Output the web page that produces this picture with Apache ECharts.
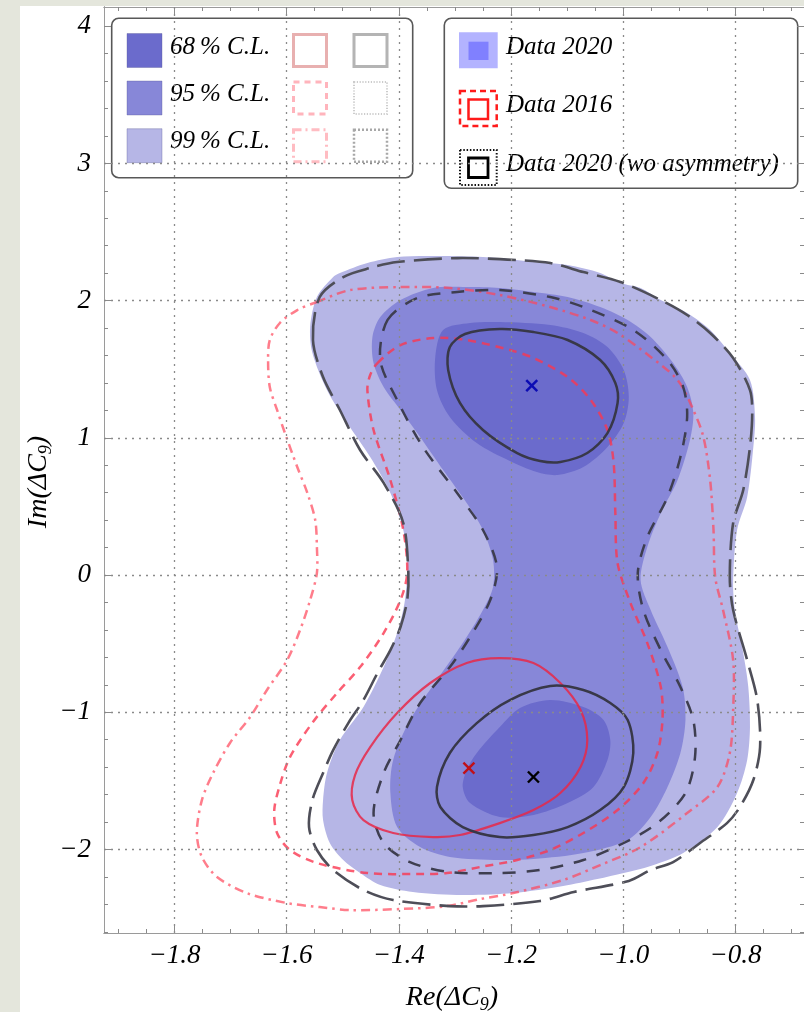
<!DOCTYPE html>
<html><head><meta charset="utf-8">
<script src="https://cdn.jsdelivr.net/npm/echarts@6/dist/echarts.min.js"></script>
<style>html,body{margin:0;padding:0;background:#fff;}#c{width:804px;height:1012px;}</style>
</head><body><div id="c"></div><script>
// ---------- data ----------
const xTickLabels = [-1.8, -1.6, -1.4, -1.2, -1.0, -0.8];
const yTickLabels = [-2, -1, 0, 1, 2, 3, 4];
const yGridValues = [-2, -1, 0, 1, 2, 3];

// Data 2020 filled confidence regions
const fill99 = [[-1.558,1.808],[-1.546,2.026],[-1.517,2.172],[-1.505,2.201],[-1.456,2.274],[-1.403,2.318],[-1.326,2.325],[-1.250,2.318],[-1.220,2.310],[-1.160,2.281],[-1.099,2.259],[-1.041,2.201],[-1.005,2.128],[-0.969,2.092],[-0.933,2.004],[-0.886,1.910],[-0.845,1.786],[-0.810,1.618],[-0.774,1.421],[-0.765,1.152],[-0.768,0.933],[-0.779,0.569],[-0.797,0.328],[-0.804,-0.036],[-0.801,-0.255],[-0.786,-0.569],[-0.777,-0.816],[-0.774,-1.108],[-0.779,-1.348],[-0.797,-1.589],[-0.832,-1.837],[-0.893,-2.026],[-0.951,-2.121],[-0.999,-2.172],[-1.046,-2.216],[-1.107,-2.267],[-1.196,-2.318],[-1.286,-2.332],[-1.375,-2.310],[-1.433,-2.259],[-1.469,-2.172],[-1.499,-2.077],[-1.523,-1.953],[-1.535,-1.786],[-1.535,-1.640],[-1.528,-1.443],[-1.505,-1.203],[-1.463,-0.962],[-1.427,-0.671],[-1.403,-0.423],[-1.389,-0.182],[-1.385,0.087],[-1.392,0.328],[-1.415,0.598],[-1.451,0.860],[-1.492,1.108],[-1.528,1.348],[-1.554,1.618]];
const fill95 = [[-1.339,2.092],[-1.279,2.099],[-1.220,2.092],[-1.160,2.063],[-1.099,2.026],[-1.041,1.953],[-0.992,1.859],[-0.951,1.735],[-0.911,1.545],[-0.886,1.370],[-0.875,1.181],[-0.881,0.984],[-0.903,0.692],[-0.933,0.452],[-0.957,0.204],[-0.969,-0.036],[-0.951,-0.255],[-0.921,-0.525],[-0.894,-0.816],[-0.889,-1.057],[-0.898,-1.297],[-0.921,-1.545],[-0.951,-1.764],[-0.992,-1.931],[-1.071,-2.026],[-1.160,-2.070],[-1.220,-2.077],[-1.309,-2.055],[-1.362,-1.983],[-1.403,-1.837],[-1.415,-1.589],[-1.410,-1.348],[-1.380,-1.057],[-1.332,-0.765],[-1.286,-0.496],[-1.250,-0.255],[-1.232,-0.087],[-1.232,0.109],[-1.250,0.328],[-1.279,0.525],[-1.321,0.765],[-1.362,1.006],[-1.397,1.203],[-1.427,1.370],[-1.445,1.545],[-1.447,1.735],[-1.433,1.880],[-1.397,2.004]];
const fill68Top = [[-1.321,1.786],[-1.273,1.837],[-1.220,1.844],[-1.130,1.822],[-1.071,1.764],[-1.028,1.662],[-0.999,1.494],[-0.990,1.297],[-0.999,1.108],[-1.028,0.933],[-1.071,0.787],[-1.117,0.729],[-1.154,0.751],[-1.202,0.831],[-1.261,0.962],[-1.309,1.152],[-1.332,1.348],[-1.335,1.589]];
const fill68Bottom = [[-1.130,-0.911],[-1.071,-0.962],[-1.035,-1.057],[-1.023,-1.203],[-1.028,-1.348],[-1.053,-1.545],[-1.099,-1.662],[-1.160,-1.749],[-1.220,-1.764],[-1.273,-1.662],[-1.286,-1.545],[-1.279,-1.421],[-1.261,-1.297],[-1.220,-1.108],[-1.184,-0.969]];

// Data 2016 contours
const red68 = [[-1.220,-0.605],[-1.160,-0.641],[-1.112,-0.787],[-1.076,-0.984],[-1.064,-1.203],[-1.076,-1.399],[-1.112,-1.589],[-1.160,-1.713],[-1.220,-1.808],[-1.291,-1.895],[-1.339,-1.910],[-1.410,-1.880],[-1.463,-1.786],[-1.483,-1.640],[-1.478,-1.458],[-1.451,-1.254],[-1.403,-1.006],[-1.344,-0.787],[-1.279,-0.641]];
const red95 = [[-1.438,1.545],[-1.397,1.676],[-1.339,1.727],[-1.279,1.713],[-1.202,1.640],[-1.160,1.582],[-1.099,1.443],[-1.058,1.276],[-1.028,1.057],[-1.017,0.816],[-1.014,0.452],[-1.010,0.087],[-0.987,-0.204],[-0.957,-0.496],[-0.933,-0.816],[-0.930,-1.057],[-0.939,-1.297],[-0.964,-1.516],[-1.010,-1.713],[-1.071,-1.880],[-1.130,-2.004],[-1.189,-2.077],[-1.255,-2.128],[-1.314,-2.172],[-1.367,-2.179],[-1.456,-2.172],[-1.546,-2.099],[-1.594,-2.004],[-1.617,-1.880],[-1.622,-1.713],[-1.612,-1.531],[-1.594,-1.327],[-1.553,-1.071],[-1.510,-0.860],[-1.469,-0.671],[-1.427,-0.423],[-1.397,-0.182],[-1.385,0.015],[-1.392,0.328],[-1.415,0.692],[-1.445,1.057],[-1.456,1.348],[-1.451,1.458]];
const red99 = [[-1.546,1.990],[-1.487,2.077],[-1.397,2.099],[-1.309,2.092],[-1.220,2.041],[-1.130,1.953],[-1.058,1.859],[-1.010,1.764],[-0.951,1.589],[-0.903,1.421],[-0.875,1.203],[-0.857,1.006],[-0.845,0.692],[-0.839,0.328],[-0.836,-0.015],[-0.822,-0.255],[-0.804,-0.620],[-0.804,-0.984],[-0.810,-1.297],[-0.832,-1.545],[-0.886,-1.735],[-0.969,-1.983],[-1.041,-2.114],[-1.107,-2.223],[-1.196,-2.318],[-1.255,-2.362],[-1.314,-2.413],[-1.397,-2.434],[-1.487,-2.442],[-1.541,-2.420],[-1.599,-2.391],[-1.671,-2.318],[-1.724,-2.201],[-1.751,-2.055],[-1.760,-1.880],[-1.751,-1.640],[-1.731,-1.443],[-1.701,-1.224],[-1.665,-1.035],[-1.635,-0.838],[-1.599,-0.620],[-1.576,-0.401],[-1.558,-0.182],[-1.546,0.015],[-1.546,0.204],[-1.549,0.401],[-1.563,0.598],[-1.581,0.787],[-1.603,1.035],[-1.617,1.203],[-1.630,1.370],[-1.633,1.567],[-1.630,1.713],[-1.612,1.837],[-1.581,1.931]];

// Data 2020 (wo asymmetry) contours
const wo68Top = [[-1.220,1.793],[-1.160,1.771],[-1.099,1.713],[-1.041,1.567],[-1.014,1.399],[-1.010,1.254],[-1.028,1.035],[-1.064,0.889],[-1.112,0.824],[-1.148,0.831],[-1.189,0.889],[-1.250,1.057],[-1.291,1.254],[-1.312,1.494],[-1.309,1.662],[-1.282,1.757]];
const wo68Bottom = [[-1.130,-0.809],[-1.071,-0.838],[-1.023,-0.933],[-0.992,-1.057],[-0.982,-1.297],[-0.999,-1.545],[-1.041,-1.713],[-1.099,-1.837],[-1.160,-1.895],[-1.220,-1.910],[-1.286,-1.837],[-1.326,-1.691],[-1.332,-1.545],[-1.309,-1.297],[-1.261,-1.079],[-1.202,-0.911]];
const wo95 = [[-1.420,1.859],[-1.367,2.019],[-1.296,2.063],[-1.220,2.077],[-1.130,2.026],[-1.071,1.953],[-0.982,1.786],[-0.921,1.567],[-0.893,1.370],[-0.886,1.152],[-0.898,0.860],[-0.921,0.569],[-0.957,0.277],[-0.974,0.015],[-0.964,-0.255],[-0.933,-0.547],[-0.898,-0.816],[-0.875,-1.057],[-0.872,-1.327],[-0.889,-1.589],[-0.939,-1.808],[-0.999,-1.953],[-1.071,-2.077],[-1.148,-2.150],[-1.220,-2.172],[-1.309,-2.165],[-1.380,-2.092],[-1.427,-1.953],[-1.445,-1.735],[-1.427,-1.443],[-1.397,-1.203],[-1.362,-0.933],[-1.309,-0.671],[-1.273,-0.452],[-1.237,-0.182],[-1.225,0.058],[-1.250,0.328],[-1.296,0.598],[-1.357,0.933],[-1.403,1.276],[-1.433,1.567]];
const wo99 = [[-1.553,1.713],[-1.541,2.026],[-1.499,2.172],[-1.451,2.238],[-1.403,2.281],[-1.296,2.310],[-1.189,2.296],[-1.130,2.274],[-1.071,2.208],[-1.005,2.136],[-0.933,2.004],[-0.886,1.895],[-0.845,1.764],[-0.804,1.582],[-0.774,1.348],[-0.770,1.181],[-0.774,0.933],[-0.786,0.620],[-0.804,0.379],[-0.810,-0.015],[-0.804,-0.255],[-0.779,-0.620],[-0.761,-0.911],[-0.756,-1.254],[-0.768,-1.494],[-0.792,-1.691],[-0.815,-1.808],[-0.863,-1.953],[-0.911,-2.092],[-0.951,-2.150],[-0.990,-2.230],[-1.088,-2.310],[-1.148,-2.376],[-1.250,-2.413],[-1.309,-2.413],[-1.410,-2.369],[-1.463,-2.296],[-1.517,-2.150],[-1.546,-2.004],[-1.560,-1.837],[-1.554,-1.640],[-1.535,-1.443],[-1.517,-1.276],[-1.490,-1.079],[-1.463,-0.911],[-1.438,-0.714],[-1.415,-0.547],[-1.397,-0.379],[-1.385,-0.182],[-1.383,0.015],[-1.392,0.379],[-1.427,0.671],[-1.469,0.911],[-1.505,1.203],[-1.535,1.443]];

// best-fit points
const bestFitPoints = [[-1.163, 1.380], [-1.275, -1.407], [-1.160, -1.472]];
const bestFitColors = ['#0c0cb4', '#c01018', '#000000'];

// ---------- chart ----------
const FONT = "'Liberation Serif','Times New Roman',serif";
const X_MIN = -1.9255, X_MAX = -0.6777, Y_MIN = -2.609, Y_MAX = 4.14;
const xMinor = []; for (let k = -38; k <= -14; k++) xMinor.push(+(k * 0.05).toFixed(2));
const yMinor = []; for (let k = -13; k <= 20; k++) yMinor.push(+(k * 0.2).toFixed(1));
const minus = v => (v < 0 ? '\u2212' : '');

function ax(kind, pos, ticks, len, extra) {
  const o = {
    type: 'value', position: pos, z: 10,
    min: kind === 'x' ? X_MIN : Y_MIN, max: kind === 'x' ? X_MAX : Y_MAX,
    axisLine: {show: true, onZero: false, lineStyle: {color: '#9a9a9a', width: 1}},
    axisTick: {show: true, inside: true, length: len, customValues: ticks, lineStyle: {color: '#8a8a8a', width: 1}},
    axisLabel: {show: false}, splitLine: {show: false}
  };
  return Object.assign(o, extra || {});
}
const gridLine = {show: true, lineStyle: {color: '#8a8a8a', width: 1.3, type: [2, 5]}};
const labelStyle = {show: true, fontFamily: FONT, fontStyle: 'italic', fontSize: 27, color: '#000'};

function polySeries(pts, style, z) {
  return {
    type: 'custom', data: pts, z: z, silent: true, animation: false,
    xAxisIndex: 0, yAxisIndex: 0, encode: {x: 0, y: 1},
    renderItem: function (params, api) {
      if (params.dataIndex !== 0) return null;
      return {type: 'polygon', shape: {points: pts.map(q => api.coord(q)), smooth: 0.3}, style: style};
    }
  };
}
const fillStyle = c => ({fill: c, stroke: null, lineWidth: 0});
const lineStyle = (c, w, dash) => ({fill: null, stroke: c, lineWidth: w, lineDash: dash || null});

const series = [
  polySeries(fill99, fillStyle('#b6b6e6'), 1),
  polySeries(fill95, fillStyle('#8787d8'), 2),
  polySeries(fill68Top, fillStyle('#6b6bcc'), 3),
  polySeries(fill68Bottom, fillStyle('#6b6bcc'), 3),
  polySeries(red99, lineStyle('rgba(255,70,90,0.7)', 2.5, [9, 5, 2.5, 5]), 4),
  polySeries(red95, lineStyle('rgba(250,55,80,0.8)', 2.5, [8, 6]), 4),
  polySeries(wo99, lineStyle('#4e4e58', 2.6, [28, 9]), 5),
  polySeries(wo95, lineStyle('#3e3e50', 2.5, [13, 11]), 5),
  polySeries(red68, lineStyle('rgba(232,40,72,0.85)', 2.2), 6),
  polySeries(wo68Top, lineStyle('#383848', 2.5), 6),
  polySeries(wo68Bottom, lineStyle('#383848', 2.5), 6),
  {
    type: 'custom', data: bestFitPoints, z: 7, silent: true, animation: false,
    xAxisIndex: 0, yAxisIndex: 0, encode: {x: 0, y: 1},
    renderItem: function (params, api) {
      const c = api.coord([api.value(0), api.value(1)]);
      const s = 5.5, col = bestFitColors[params.dataIndex];
      const st = {stroke: col, lineWidth: 2.4};
      return {type: 'group', children: [
        {type: 'line', shape: {x1: c[0] - s, y1: c[1] - s, x2: c[0] + s, y2: c[1] + s}, style: st},
        {type: 'line', shape: {x1: c[0] - s, y1: c[1] + s, x2: c[0] + s, y2: c[1] - s}, style: st}
      ]};
    }
  }
];

const tFont = "italic 25px 'Liberation Serif','Times New Roman',serif";
function txt(x, y, s) {
  return {type: 'text', x: x, y: y, z: 2, style: {text: s, font: tFont, fill: '#000', align: 'left', verticalAlign: 'middle', textAlign: 'left', textVerticalAlign: 'middle'}};
}
function box(x, y, w, h, st) {
  return {type: 'rect', z: 2, shape: {x: x, y: y, width: w, height: h}, style: st};
}
const titleRich = {
  a: {fontFamily: FONT, fontStyle: 'italic', fontSize: 28, lineHeight: 32, fill: '#000', color: '#000'},
  s: {fontFamily: FONT, fontStyle: 'italic', fontSize: 18, lineHeight: 15, verticalAlign: 'bottom', fill: '#000', color: '#000'}
};
const graphics = [
  {type: 'rect', z: -5, shape: {x: 0, y: 0, width: 20, height: 1012}, style: {fill: '#e4e6dc'}},
  {type: 'rect', z: -5, shape: {x: 0, y: 0, width: 804, height: 6}, style: {fill: '#e4e6dc'}},
  // left legend
  {type: 'rect', z: 1, shape: {x: 111.7, y: 18.3, width: 301, height: 159.4, r: 7}, style: {fill: '#fff', stroke: '#585858', lineWidth: 1.6}},
  box(127, 33.5, 35, 34, {fill: '#6b6bcc', stroke: 'rgba(90,90,150,0.35)', lineWidth: 1}),
  box(127, 81, 35, 34, {fill: '#8787d8', stroke: 'rgba(90,90,150,0.35)', lineWidth: 1}),
  box(127, 128.7, 35, 34, {fill: '#b6b6e6', stroke: 'rgba(90,90,150,0.35)', lineWidth: 1}),
  txt(170, 47, '68\u2009% C.L.'), txt(170, 94, '95\u2009% C.L.'), txt(170, 141.5, '99\u2009% C.L.'),
  box(293.5, 34.5, 33, 32, {fill: null, stroke: '#e8b0b0', lineWidth: 3}),
  box(293.5, 82, 33, 32, {fill: null, stroke: '#ffb4bc', lineWidth: 3, lineDash: [6, 5]}),
  box(293.5, 129.7, 33, 32, {fill: null, stroke: '#ffbcc2', lineWidth: 3, lineDash: [8, 4, 2, 4]}),
  box(354, 34.5, 33, 32, {fill: null, stroke: '#b4b4b4', lineWidth: 3}),
  box(354, 82, 33, 32, {fill: null, stroke: '#cccccc', lineWidth: 2, lineDash: [1.2, 1.6]}),
  box(354, 129.7, 33, 32, {fill: null, stroke: '#a8a8a8', lineWidth: 2.5, lineDash: [2, 2]}),
  // right legend
  {type: 'rect', z: 1, shape: {x: 444.3, y: 18.3, width: 353.4, height: 170, r: 7}, style: {fill: '#fff', stroke: '#585858', lineWidth: 1.6}},
  box(459, 32.3, 38.7, 36, {fill: '#b3b3ff'}),
  box(468.5, 41.7, 20, 18.3, {fill: '#8080ff'}),
  box(460, 91, 36.7, 35, {fill: null, stroke: '#ff1a1a', lineWidth: 2.5, lineDash: [6, 4]}),
  box(468.5, 99.5, 19.5, 19.5, {fill: null, stroke: '#ff1a1a', lineWidth: 2.5}),
  box(460, 150, 36.7, 35, {fill: null, stroke: '#111', lineWidth: 2, lineDash: [1.5, 1.8]}),
  box(468.5, 158, 19.5, 19.5, {fill: null, stroke: '#000', lineWidth: 2.8}),
  txt(506, 47.5, 'Data 2020'), txt(506, 105.5, 'Data 2016'), txt(506, 164.5, 'Data 2020 (wo asymmetry)'),
  // axis titles
  {type: 'text', x: 452, y: 998, z: 2, style: {text: '{a|Re(\u0394C}{s|9}{a|)}', rich: titleRich, align: 'center', verticalAlign: 'middle', textAlign: 'center', textVerticalAlign: 'middle'}},
  {type: 'text', x: 39, y: 482, z: 2, rotation: Math.PI / 2, style: {text: '{a|Im(\u0394C}{s|9}{a|)}', rich: titleRich, align: 'center', verticalAlign: 'middle', textAlign: 'center', textVerticalAlign: 'middle'}}
];

const chart = echarts.init(document.getElementById('c'), null, {renderer: 'canvas'});
chart.setOption({
  backgroundColor: '#ffffff',
  animation: false,
  grid: {left: 104, top: 7, right: 0, bottom: 79, containLabel: false},
  xAxis: [
    ax('x', 'bottom', xTickLabels, 7, {
      axisLabel: Object.assign({}, labelStyle, {customValues: xTickLabels, margin: 9,
        formatter: v => minus(v) + Math.abs(v).toFixed(1)}),
      splitLine: gridLine
    }),
    ax('x', 'bottom', xMinor, 4),
    ax('x', 'top', xTickLabels, 7),
    ax('x', 'top', xMinor, 4)
  ],
  yAxis: [
    ax('y', 'left', yGridValues, 7, {
      axisLabel: Object.assign({}, labelStyle, {customValues: yTickLabels, margin: 13,
        formatter: v => minus(v) + Math.abs(Math.round(v))}),
      splitLine: gridLine
    }),
    ax('y', 'left', yTickLabels, 7),
    ax('y', 'left', yMinor, 4),
    ax('y', 'right', yTickLabels, 7),
    ax('y', 'right', yMinor, 4)
  ],
  graphic: {elements: graphics},
  series: series
});
</script></body></html>
